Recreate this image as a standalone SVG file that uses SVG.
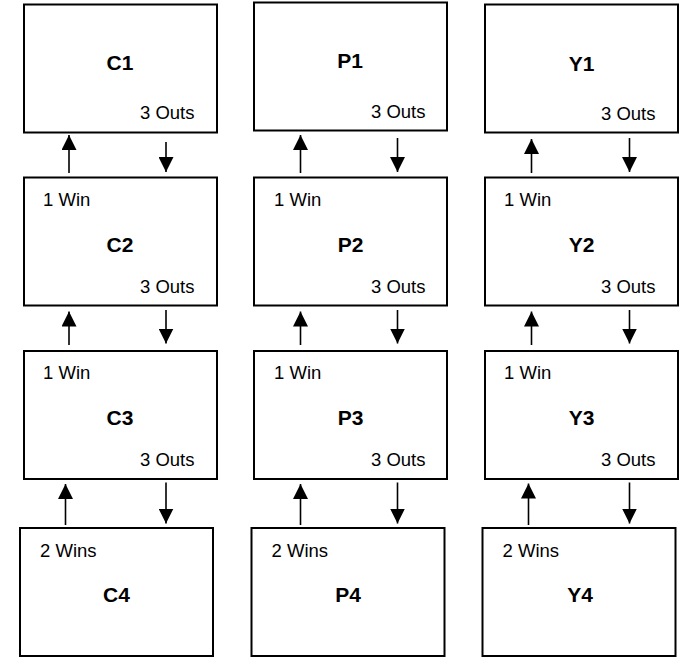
<svg xmlns="http://www.w3.org/2000/svg" width="687" height="663" viewBox="0 0 687 663">
<style>
.box{fill:#fff;stroke:#000;stroke-width:2}
.t{font-family:"Liberation Sans",Arial,sans-serif;font-size:18.5px;fill:#000}
.b{font-family:"Liberation Sans",Arial,sans-serif;font-size:21px;font-weight:bold;fill:#000;text-anchor:middle}
.c{stroke:#000;stroke-width:1.6;fill:none;marker-end:url(#ah)}
</style>
<defs>
<marker id="ah" markerUnits="userSpaceOnUse" markerWidth="15" markerHeight="15" refX="15" refY="7.5" orient="auto" viewBox="0 0 15 15">
<path d="M0,0 L15,7.5 L0,15 z" fill="#000"/>
</marker>
</defs>
<rect width="687" height="663" fill="#fff"/>
<g id="C1"><rect class="box" x="24" y="4.5" width="193" height="128"/><text class="b" x="120" y="70">C1</text><text class="t" x="140" y="119">3 Outs</text></g>
<g id="C2"><rect class="box" x="24" y="177.5" width="193" height="128"/><text class="t" x="43" y="205.5">1 Win</text><text class="b" x="120" y="251.5">C2</text><text class="t" x="140" y="292.5">3 Outs</text></g>
<g id="C3"><rect class="box" x="24" y="351" width="193" height="128"/><text class="t" x="43" y="379">1 Win</text><text class="b" x="120" y="425">C3</text><text class="t" x="140" y="466">3 Outs</text></g>
<g id="C4"><rect class="box" x="20" y="528" width="193" height="128"/><text class="t" x="40" y="556.5">2 Wins</text><text class="b" x="116.5" y="601.5">C4</text></g>
<g id="P1"><rect class="box" x="254" y="2.5" width="193" height="128"/><text class="b" x="350" y="68">P1</text><text class="t" x="371" y="118">3 Outs</text></g>
<g id="P2"><rect class="box" x="254" y="177.5" width="193" height="128"/><text class="t" x="274" y="205.5">1 Win</text><text class="b" x="350.5" y="251.5">P2</text><text class="t" x="371" y="292.5">3 Outs</text></g>
<g id="P3"><rect class="box" x="254" y="351" width="193" height="128"/><text class="t" x="274" y="379">1 Win</text><text class="b" x="350.5" y="425">P3</text><text class="t" x="371" y="466">3 Outs</text></g>
<g id="P4"><rect class="box" x="251.5" y="528" width="193" height="128"/><text class="t" x="271.5" y="556.5">2 Wins</text><text class="b" x="348" y="601.5">P4</text></g>
<g id="Y1"><rect class="box" x="485" y="4.5" width="193" height="128"/><text class="b" x="581.5" y="70.5">Y1</text><text class="t" x="601" y="120">3 Outs</text></g>
<g id="Y2"><rect class="box" x="485" y="177.5" width="193" height="128"/><text class="t" x="504" y="205.5">1 Win</text><text class="b" x="581.5" y="251.5">Y2</text><text class="t" x="601" y="292.5">3 Outs</text></g>
<g id="Y3"><rect class="box" x="485" y="351" width="193" height="128"/><text class="t" x="504" y="379">1 Win</text><text class="b" x="581.5" y="425">Y3</text><text class="t" x="601" y="466">3 Outs</text></g>
<g id="Y4"><rect class="box" x="482.5" y="528" width="193" height="128"/><text class="t" x="502.5" y="556.5">2 Wins</text><text class="b" x="580" y="601.5">Y4</text></g>
<g id="connectors">
<line class="c" x1="69" y1="173" x2="69" y2="135"/>
<line class="c" x1="166" y1="142" x2="166" y2="172"/>
<line class="c" x1="69" y1="345" x2="69" y2="311.5"/>
<line class="c" x1="166" y1="310" x2="166" y2="343.5"/>
<line class="c" x1="65.5" y1="525" x2="65.5" y2="484"/>
<line class="c" x1="166" y1="482.5" x2="166" y2="523.5"/>
<line class="c" x1="300.5" y1="173" x2="300.5" y2="135"/>
<line class="c" x1="397.5" y1="138" x2="397.5" y2="172"/>
<line class="c" x1="300.5" y1="345" x2="300.5" y2="311.5"/>
<line class="c" x1="397.5" y1="310" x2="397.5" y2="343.5"/>
<line class="c" x1="300.5" y1="525" x2="300.5" y2="484"/>
<line class="c" x1="397.5" y1="482.5" x2="397.5" y2="523.5"/>
<line class="c" x1="531.5" y1="173" x2="531.5" y2="139"/>
<line class="c" x1="629.5" y1="138" x2="629.5" y2="172"/>
<line class="c" x1="531.5" y1="345" x2="531.5" y2="311.5"/>
<line class="c" x1="629.5" y1="310" x2="629.5" y2="343.5"/>
<line class="c" x1="528.5" y1="525" x2="528.5" y2="483.5"/>
<line class="c" x1="629.5" y1="482.5" x2="629.5" y2="523.5"/>
</g>
</svg>
